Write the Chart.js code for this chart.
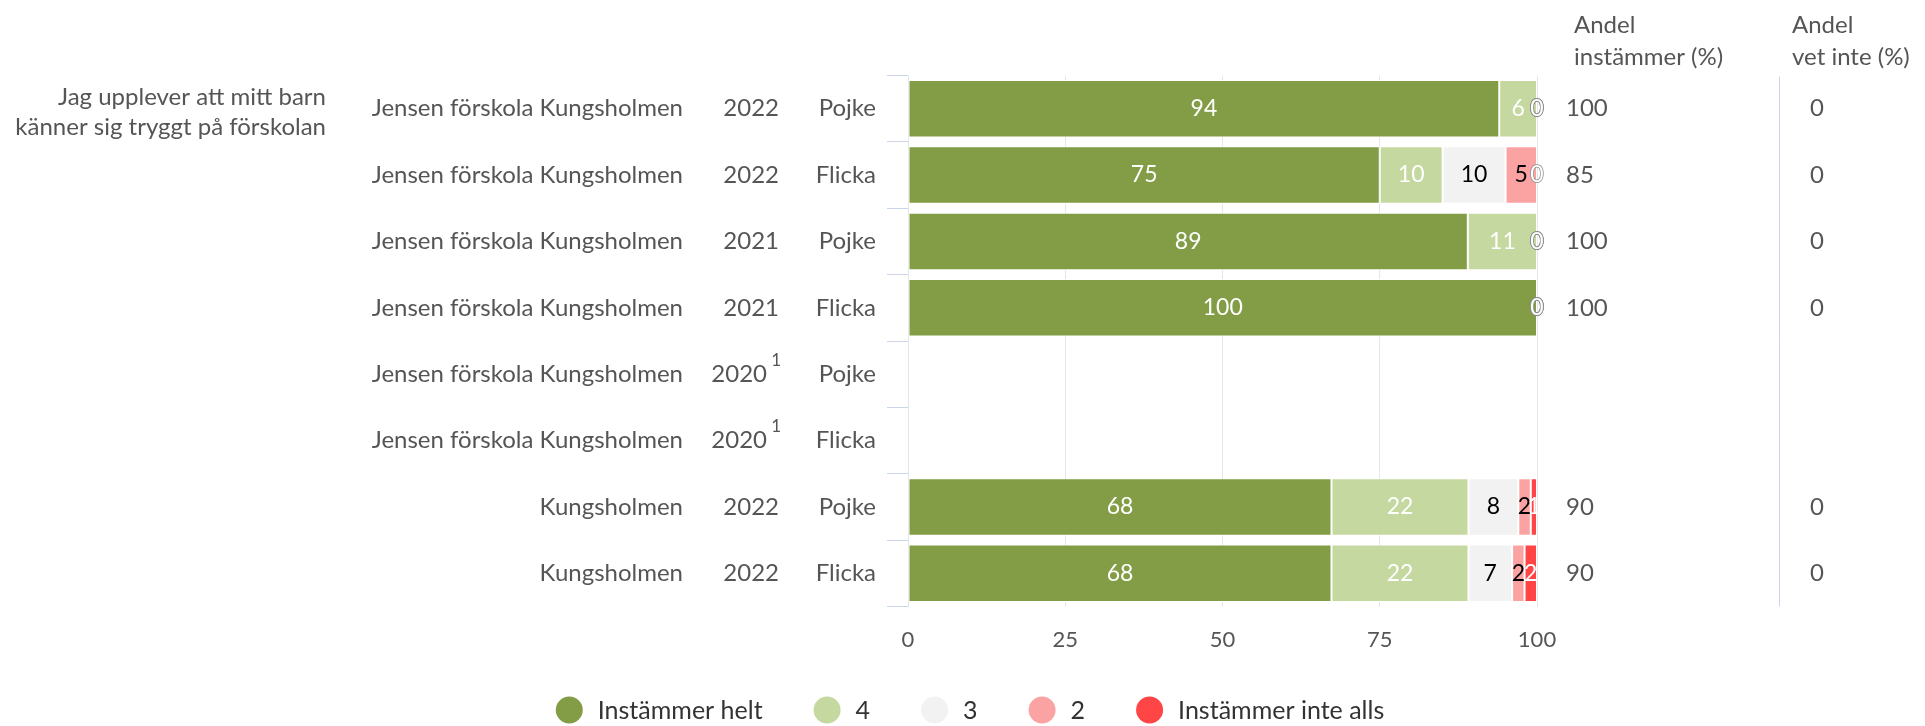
<!DOCTYPE html>
<html>
<head>
<meta charset="utf-8">
<script src="https://cdn.jsdelivr.net/npm/chart.js@4.4.1/dist/chart.umd.min.js"></script>
<style>
    html, body { margin: 0; padding: 0; background: #fff; }
    #wrap { position: relative; width: 1925px; height: 726px; }
</style>
</head>
<body>
<div id="wrap"><canvas id="chart"></canvas></div>
<script>
// ===== Data =====
const question = ['Jag upplever att mitt barn', 'känner sig tryggt på förskolan'];
const units = ['Jensen förskola Kungsholmen', 'Jensen förskola Kungsholmen', 'Jensen förskola Kungsholmen',
    'Jensen förskola Kungsholmen', 'Jensen förskola Kungsholmen', 'Jensen förskola Kungsholmen',
    'Kungsholmen', 'Kungsholmen'];
const years = ['2022', '2022', '2021', '2021', '2020', '2020', '2022', '2022'];
const yearNotes = ['', '', '', '', '1', '1', '', ''];
const genders = ['Pojke', 'Flicka', 'Pojke', 'Flicka', 'Pojke', 'Flicka', 'Pojke', 'Flicka'];

const seriesNames = ['Instämmer helt', '4', '3', '2', 'Instämmer inte alls'];
const helt     = [94, 75, 89, 100, null, null, 68, 68];
const fyra     = [6, 10, 11, 0, null, null, 22, 22];
const tre      = [0, 10, 0, 0, null, null, 8, 7];
const tva      = [0, 5, 0, 0, null, null, 2, 2];
const inteAlls = [0, 0, 0, 0, null, null, 1, 2];

const andelInstammer = [100, 85, 100, 100, null, null, 90, 90];
const andelVetInte   = [0, 0, 0, 0, null, null, 0, 0];
const xTicks = [0, 25, 50, 75, 100];

// ===== Style =====
const FONT = 'Lato, "Open Sans", sans-serif';
const TEXT = '#555555';
const colors = ['#829d45', '#c5d89f', '#f2f2f2', '#fba3a3', '#ff4545'];
const labelColors = ['#ffffff', '#ffffff', '#000000', '#000000', '#ffffff'];

const series = [helt, fyra, tre, tva, inteAlls];
const rowSums = helt.map((_, i) => series.reduce((s, arr) => s + (arr[i] || 0), 0));
// percent stacking: each bar is normalised to its row total
const pct = arr => arr.map((v, i) => v === null ? null : v / rowSums[i] * 100);

// ===== Row labels, table columns and question text =====
const tablePlugin = {
    id: 'table',
    afterDraw(chart) {
        const ctx = chart.ctx;
        const y = chart.scales.y;
        ctx.save();
        ctx.fillStyle = TEXT;
        ctx.textBaseline = 'middle';
        ctx.font = '24px ' + FONT;

        // question
        ctx.textAlign = 'right';
        ctx.fillText(question[0], 326, 97);
        ctx.fillText(question[1], 326, 127);

        units.forEach((u, i) => {
            const py = y.getPixelForValue(i);
            ctx.font = '24px ' + FONT;
            ctx.textAlign = 'right';
            ctx.fillText(u, 683, py);
            ctx.fillText(genders[i], 876, py);
            if (yearNotes[i]) {
                ctx.fillText(years[i], 767, py);
                ctx.font = '17px ' + FONT;
                ctx.fillText(yearNotes[i], 781, py - 14);
            } else {
                ctx.fillText(years[i], 779, py);
            }
            ctx.font = '24px ' + FONT;
            ctx.textAlign = 'left';
            if (andelInstammer[i] !== null) ctx.fillText(String(andelInstammer[i]), 1566, py);
            ctx.textAlign = 'center';
            if (andelVetInte[i] !== null) ctx.fillText(String(andelVetInte[i]), 1817, py);
        });

        // column headers
        ctx.font = '24px ' + FONT;
        ctx.textAlign = 'left';
        ctx.fillText('Andel', 1574, 25);
        ctx.fillText('instämmer (%)', 1574, 57);
        ctx.fillText('Andel', 1792, 25);
        ctx.fillText('vet inte (%)', 1792, 57);

        // divider
        ctx.strokeStyle = '#ccd6eb';
        ctx.lineWidth = 1;
        ctx.beginPath();
        ctx.moveTo(1779.5, y.top + 1);
        ctx.lineTo(1779.5, y.bottom);
        ctx.stroke();
        ctx.restore();
    }
};

// ===== Legend, centred under the chart =====
const legendPlugin = {
    id: 'bottomLegend',
    afterDraw(chart) {
        const ctx = chart.ctx;
        const r = 13.5, gapText = 15, gapItem = 51, cy = 710;
        ctx.save();
        ctx.font = '25px ' + FONT;
        ctx.textBaseline = 'middle';
        ctx.textAlign = 'left';
        const widths = seriesNames.map(n => 2 * r + gapText + ctx.measureText(n).width);
        const total = widths.reduce((a, b) => a + b, 0) + gapItem * (widths.length - 1);
        let x = 970 - total / 2;
        chart.data.datasets.forEach((ds, k) => {
            ctx.fillStyle = ds.backgroundColor;
            ctx.beginPath();
            ctx.arc(x + r, cy, r, 0, Math.PI * 2);
            ctx.fill();
            ctx.fillStyle = '#333333';
            ctx.fillText(ds.label, x + 2 * r + gapText, cy + 1);
            x += widths[k] + gapItem;
        });
        ctx.restore();
    }
};

// ===== Data labels on each segment =====
const valueLabels = {
    id: 'valueLabels',
    afterDatasetsDraw(chart) {
        const ctx = chart.ctx;
        ctx.save();
        ctx.font = '23px ' + FONT;
        ctx.textAlign = 'center';
        ctx.textBaseline = 'middle';
        chart.data.datasets.forEach((ds, di) => {
            const meta = chart.getDatasetMeta(di);
            meta.data.forEach((bar, i) => {
                const raw = series[di][i];
                if (raw === null) return;
                const cx = (bar.x + bar.base) / 2;
                if (raw === 0) {
                    ctx.lineWidth = 1.5;
                    ctx.strokeStyle = '#8c8c8c';
                    ctx.strokeText('0', cx, bar.y);
                    ctx.fillStyle = '#ffffff';
                    ctx.fillText('0', cx, bar.y);
                } else {
                    ctx.fillStyle = labelColors[di];
                    ctx.fillText(String(raw), cx, bar.y);
                }
            });
        });
        ctx.restore();
    }
};

const ctx = document.getElementById('chart').getContext('2d');
new Chart(ctx, {
    type: 'bar',
    data: {
        labels: units.map((u, i) => u + ' ' + years[i] + ' ' + genders[i]),
        datasets: series.map((arr, k) => ({
            label: seriesNames[k],
            data: pct(arr),
            backgroundColor: colors[k],
            borderColor: '#ffffff',
            borderWidth: 1,
            borderSkipped: false,
            barPercentage: 0.865,
            categoryPercentage: 1,
        }))
    },
    options: {
        indexAxis: 'y',
        responsive: true,
        maintainAspectRatio: false,
        animation: false,
        layout: { padding: { left: 0, right: 388, top: 75.5, bottom: 0 } },
        plugins: {
            tooltip: { enabled: false },
            legend: { display: false }
        },
        scales: {
            x: {
                stacked: true,
                min: 0,
                max: 100,
                afterBuildTicks: scale => { scale.ticks = xTicks.map(v => ({ value: v })); },
                afterFit: scale => { scale.height = 119.5; },
                ticks: { color: TEXT, padding: 20, font: { size: 22, family: FONT } },
                grid: { color: '#e6e6e6', drawTicks: false },
                border: { display: false },
            },
            y: {
                stacked: true,
                afterFit: scale => { scale.width = 908; },
                ticks: { display: false },
                grid: { drawOnChartArea: false, color: '#ccd6eb', tickLength: 21, offset: true },
                border: { display: false },
            }
        }
    },
    plugins: [tablePlugin, valueLabels, legendPlugin]
});
</script>
</body>
</html>
